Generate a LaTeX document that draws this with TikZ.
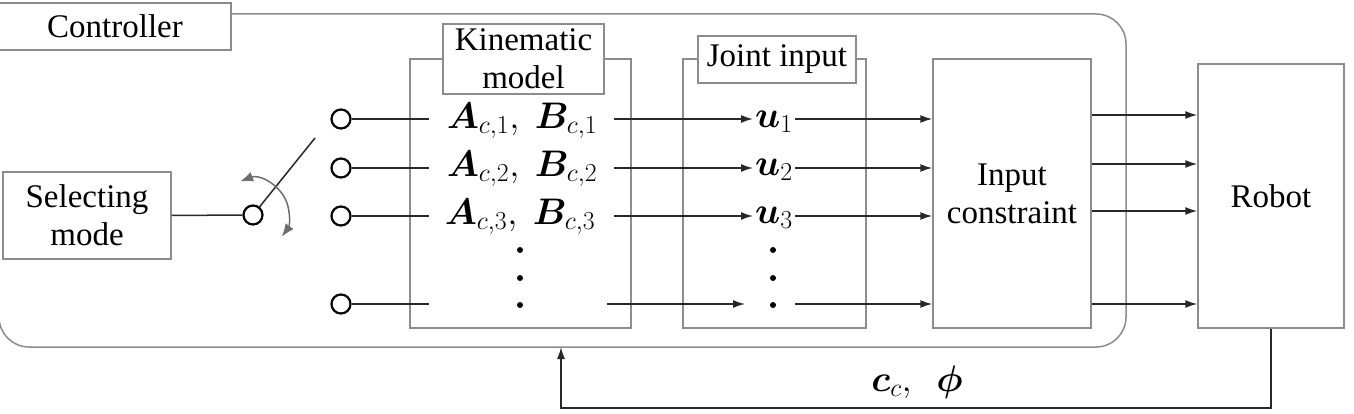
\RequirePackage{fix-cm}
\documentclass[tikz,border=0pt]{standalone}
\usepackage{amsmath,bm}
\usepackage[no-math]{fontspec}
\setmainfont{Liberation Serif}
\newfontfamily\timesfont{Liberation Serif}
\usetikzlibrary{arrows.meta}
\definecolor{boxgray}{RGB}{140,140,140}
\definecolor{linedark}{RGB}{40,40,40}
\definecolor{arcgray}{RGB}{110,110,110}
\begin{document}
\begin{tikzpicture}[x=1pt,y=-1pt,
  every node/.style={font=\timesfont\fontsize{33}{40}\selectfont},
  box/.style={draw=boxgray, line width=1.5pt, fill=white, inner sep=0pt, align=center},
  conn/.style={draw=linedark, line width=1.5pt},
  arr/.style={conn, -{Latex[length=12pt,width=8pt]}},
  term/.style={circle, draw=black, line width=2.2pt, minimum size=19pt, inner sep=0pt, fill=white},
  dotn/.style={circle, fill=black, minimum size=6pt, inner sep=0pt},
  mathn/.style={inner sep=0pt, anchor=center, font=\fontsize{37}{44}\selectfont}
]
\useasboundingbox (0,0) rectangle (1354,414);
% controller frame
\draw[draw=boxgray, line width=1.5pt, rounded corners=30pt] (-1,14) rectangle (1126,347);
\node[box, minimum width=232pt, minimum height=47pt] (ctrl) at (115,26.5) {Controller};

% blocks
\node[box, minimum width=168pt, minimum height=87pt] (sel) at (87,215.5) {Selecting\\[-2pt]mode};
\node[box, minimum width=221pt, minimum height=269pt] (kin) at (520.5,193.5) {};
\node[box, minimum width=161pt, minimum height=70pt] (kinl) at (523.5,59) {Kinematic\\[-2pt]model};
\node[box, minimum width=183pt, minimum height=269pt] (joint) at (774.5,193.5) {};
\node[box, minimum width=158pt, minimum height=47pt] (jointl) at (777,59.5) {Joint input};
\node[box, minimum width=158pt, minimum height=269pt] (ic) at (1012,193.5) {Input\\[-2pt]constraint};
\node[box, minimum width=146pt, minimum height=264pt] (robot) at (1271,196) {Robot};

% switch
\node[term] (sw) at (253,215) {};
\coordinate (lever) at (315,138);
\draw[conn] (sel.east) -- (sw.west);
\draw[conn] (sw) -- (lever);
\draw[draw=arcgray, line width=1.5pt, {Latex[length=13pt,width=10pt]}-{Latex[length=13pt,width=10pt]}]
  ([shift={(-111:36)}]sw.center) arc[start angle=-111, end angle=37, radius=36];

% terminals
\foreach \i/\y in {1/119,2/168,3/216,4/304}{
  \node[term] (o\i) at (341,\y) {};
  \coordinate (oe\i) at (429,\y);
  \draw[conn] (o\i) -- (oe\i);
}

% kinematic models
\node[mathn] (m1) at (522,121) {$\bm{A}_{c,1},\ \bm{B}_{c,1}$};
\node[mathn] (m2) at (522,169) {$\bm{A}_{c,2},\ \bm{B}_{c,2}$};
\node[mathn] (m3) at (520,217) {$\bm{A}_{c,3},\ \bm{B}_{c,3}$};
\node[dotn] (kd1) at (520,250) {};
\node[dotn] (kd2) at (520,278) {};
\node[dotn] (kd3) at (520,305) {};

% joint inputs
\node[mathn] (u1) at (774,122) {$\bm{u}_1$};
\node[mathn] (u2) at (774,170) {$\bm{u}_2$};
\node[mathn] (u3) at (774,218) {$\bm{u}_3$};
\node[dotn] (ud1) at (773,250) {};
\node[dotn] (ud2) at (773,278) {};
\node[dotn] (ud3) at (773,305) {};

% arrows model -> joint input
\foreach \i/\y in {1/119,2/168,3/216}{
  \coordinate (ms\i) at (614,\y);
  \coordinate (ue\i) at (753,\y);
  \draw[arr] (ms\i) -- (ue\i);
  \coordinate (us\i) at (795,\y);
  \draw[arr] (us\i) -- (ic.west |- us\i);
}
\coordinate (ms4) at (607,304);
\coordinate (ue4) at (745,304);
\draw[arr] (ms4) -- (ue4);
\coordinate (us4) at (795,304);
\draw[arr] (us4) -- (ic.west |- us4);

% input constraint -> robot
\foreach \i/\y in {1/115,2/164,3/211,4/304}{
  \coordinate (is\i) at (1092,\y);
  \draw[arr] (is\i) -- (robot.west |- is\i);
}

% feedback
\coordinate (fb1) at (1271,408);
\coordinate (fb2) at (561,408);
\coordinate (fb3) at (561,347);
\draw[arr] (robot.south) -- (fb1) -- (fb2) -- (fb3);
\node[mathn] (fbl) at (917,382) {$\bm{c}_c,\ \ \bm{\phi}$};
\end{tikzpicture}
\end{document}
